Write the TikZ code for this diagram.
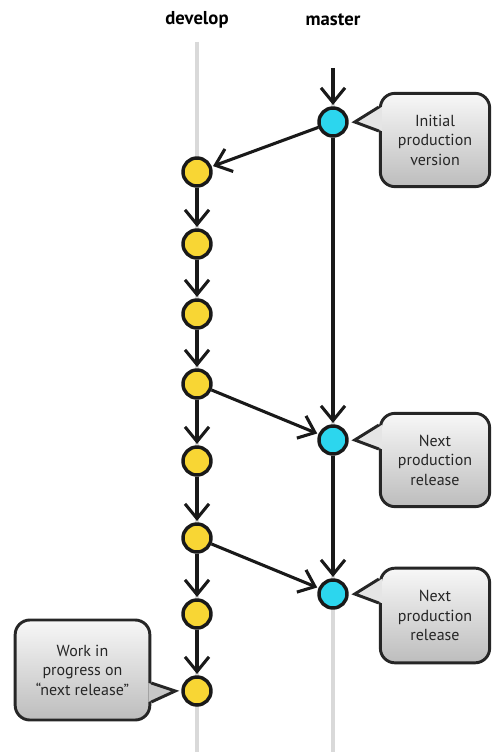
\documentclass[tikz,border=0pt]{standalone}
\usepackage{fontspec}
\setmainfont{PT Sans}
\usetikzlibrary{arrows.meta,calc,positioning}
\definecolor{devfill}{RGB}{248,214,52}
\definecolor{masterfill}{RGB}{44,214,238}
\begin{document}
\begin{tikzpicture}[x=.75pt,y=-.75pt,
  font=\fontsize{12}{14.6}\selectfont,
  lane/.style={draw=black!15,line width=3pt},
  commit/.style={circle,draw=black!90,line width=2.6pt,minimum size=21pt,inner sep=0pt},
  flow/.style={-{Straight Barb[length=11pt,width=18pt]},draw=black!90,line width=2.3pt,shorten >=1pt},
  callout/.style={draw=black!85,line width=2.2pt,rounded corners=11pt,
                  top color=black!3,bottom color=black!26,align=center,text=black!85},
  tip/.style={draw=black!85,line width=2.2pt,fill=black!10,line join=miter},
  lanelabel/.style={font=\bfseries\fontsize{14}{16}\selectfont}]
\useasboundingbox (0,0) rectangle (493,755);

% lanes with their names
\node[lanelabel] (devlabel) at (197,20) {develop};
\node[lanelabel] (masterlabel) at (333,20) {master};
\coordinate (devtop) at (197,42);
\coordinate (devbot) at (197,752);
\coordinate (mastertop) at (333,68);
\coordinate (masterbot) at (333,752);
\draw[lane] (devtop) -- (devbot);
\draw[lane] (mastertop) -- (masterbot);

% commits on develop and master
\foreach \i/\y in {1/172,2/244,3/314,4/384,5/461,6/538,7/614,8/691}{
  \node[commit,fill=devfill] (d\i) at (197,\y) {};
}
\node[commit,fill=masterfill] (m1) at (333,122) {};
\node[commit,fill=masterfill] (m2) at (333,440) {};
\node[commit,fill=masterfill] (m3) at (333,594) {};

% history
\foreach \i [count=\j from 2] in {1,...,7}{
  \draw[flow] (d\i) -- (d\j);
}
\draw[flow] (mastertop) -- (m1);
\draw[flow] (m1) -- (d1);
\draw[flow] (m1) -- (m2);
\draw[flow] (d4) -- (m2);
\draw[flow] (m2) -- (m3);
\draw[flow] (d6) -- (m3);

% callouts. The tip is drawn over the box edge.
\node[callout,minimum width=82pt,minimum height=70pt] (c1) at (435,140)
  {Initial\\production\\version};
\node[callout,minimum width=82pt,minimum height=70pt] (c2) at (435,460)
  {Next\\production\\release};
\node[callout,minimum width=82pt,minimum height=71pt] (c3) at (435,615.5)
  {Next\\production\\release};
\node[callout,minimum width=101pt,minimum height=75pt] (c4) at (82.5,670)
  {Work in\\progress on\\``next release''};
\foreach \c/\m in {c1/m1,c2/m2,c3/m3}{
  \fill[black!10] ($(\c.west|-\m)+(3,-15)$) -- ($(\m.east)+(6,0)$)
    -- ($(\c.west|-\m)+(3,9)$) -- cycle;
  \draw[tip,fill=none] ($(\c.west|-\m)+(0,-15)$) -- ($(\m.east)+(6,0)$)
    -- ($(\c.west|-\m)+(0,9)$);
}
\fill[black!22] ($(c4.east|-d8)+(-3,-8)$) -- ($(d8.west)+(-6,0)$)
  -- ($(c4.east|-d8)+(-3,11)$) -- cycle;
\draw[tip,fill=none] ($(c4.east|-d8)+(0,-8)$) -- ($(d8.west)+(-6,0)$)
  -- ($(c4.east|-d8)+(0,11)$);
\end{tikzpicture}
\end{document}
